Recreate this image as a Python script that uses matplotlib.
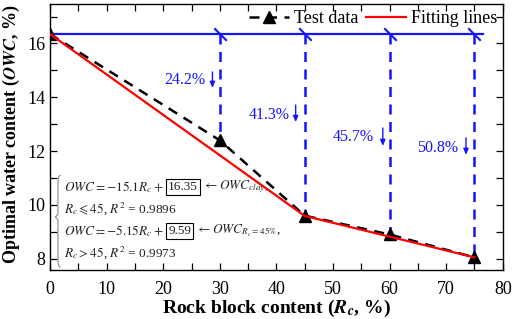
import numpy as np
import matplotlib
matplotlib.use("Agg")
from matplotlib import pyplot as plt
from matplotlib.offsetbox import TextArea, HPacker, VPacker, PaddedBox, AnnotationBbox
from matplotlib.path import Path
from matplotlib.patches import PathPatch

plt.rcParams['font.family'] = ['Liberation Serif', 'DejaVu Serif']
plt.rcParams['mathtext.fontset'] = 'stix'

# test data
rc_test  = [0, 30, 45, 60, 75]
owc_test = [16.35, 12.4, 9.6, 8.9, 8.05]

# fitting lines (two segments)
rc_fit  = [0, 45, 75]
owc_fit = [16.35, 9.59, 8.05]

# reference level (OWC of clay) and drop lines
ref_level = 16.35
ref_x     = [0, 76.5]
drop_x    = [30, 45, 60, 75]
drop_y    = [12.4, 9.6, 8.9, 8.05]

# reduction labels
pct_labels = ['24.2%', '41.3%', '45.7%', '50.8%']
pct_text_x = [27.4, 42.3, 57.3, 72.2]
pct_text_y = [14.64, 13.34, 12.52, 12.12]
arrow_x    = [28.7, 43.4, 58.8, 73.5]
arrow_top  = [14.94, 13.71, 12.86, 12.49]
arrow_bot  = [14.35, 13.08, 12.19, 11.86]

blue = '#1414ff'

fig = plt.figure(figsize=(5.12, 3.19), dpi=100)
ax = fig.add_axes([0.0977, 0.1536, 0.8843, 0.8324])

# reference line + drops
ax.plot(ref_x, [ref_level, ref_level], color=blue, lw=1.6, zorder=2)
for x, y in zip(drop_x, drop_y):
  ax.plot([x, x], [ref_level, y], color=blue, lw=1.8, dashes=(4, 3), zorder=2)
slash = [(-1, 1), (1, -1)]
ax.plot(drop_x, [ref_level]*len(drop_x), ls='none', marker=slash, ms=9,
        mec=blue, mew=1.5, zorder=3)

# fitting + test data
ax.plot(rc_fit, owc_fit, color='#ff0000', lw=1.6, zorder=4, label='Fitting lines')
ax.plot(rc_test, owc_test, color='black', lw=1.8, dashes=(4, 3), marker='^',
        ms=8, mfc='black', zorder=3, label='Test data')

for lab, tx, ty, axx, at, ab in zip(pct_labels, pct_text_x, pct_text_y,
                                   arrow_x, arrow_top, arrow_bot):
  ax.text(tx, ty, lab, color=blue, fontsize=11.5, ha='right', va='center')
  ax.annotate('', xy=(axx, ab), xytext=(axx, at),
              arrowprops=dict(arrowstyle='-|>,head_length=0.35,head_width=0.15',
                              color=blue, lw=1.0, shrinkA=0, shrinkB=0))

# axes styling
ax.set_xlim(0, 80)
ax.set_ylim(7.58, 17.45)
ax.set_xticks(np.arange(0, 81, 10))
ax.set_xticks(np.arange(0, 81, 5), minor=True)
ax.set_yticks([8, 10, 12, 14, 16])
ax.set_yticks(np.arange(8, 18, 1), minor=True)
ax.tick_params(which='both', direction='in', top=True, right=True,
               labelsize=13, width=0.9)
ax.tick_params(which='major', length=5)
ax.tick_params(which='minor', length=5)
ax.tick_params(axis='x', which='major', pad=8)
for s in ax.spines.values():
  s.set_linewidth(1.0)

ax.set_xlabel(r'Rock block content ($\mathbfit{R_c}$, %)', fontsize=14,
              fontweight='bold', labelpad=0)
ax.set_ylabel(r'Optimal water content ($\mathbfit{OWC}$, %)', fontsize=13,
              fontweight='bold')
ax.yaxis.set_label_coords(-0.062, 0.51)

h, l = ax.get_legend_handles_labels()
ax.legend([h[1], h[0]], [l[1], l[0]], loc='upper right', ncol=2, frameon=False,
          fontsize=13, handlelength=2.2, handletextpad=0.3, columnspacing=0.4,
          borderaxespad=0.1, borderpad=0.2)

# equation block
tp = dict(fontsize=9.5, color='#222222')
def box(s):
  return PaddedBox(TextArea(s, textprops=tp), pad=1.5, draw_frame=True,
                   patch_attrs=dict(boxstyle='square,pad=0', lw=0.8, ec='black', fc='none'))

row1 = HPacker(children=[TextArea(r'$OWC=-15.1R_c+$', textprops=tp), box('16.35'),
                         TextArea(r'$\leftarrow OWC_{clay}$,', textprops=tp)],
               sep=2, align='center')
row2 = TextArea(r'$R_c \leqslant 45$, $R^2$ = 0.9896', textprops=tp)
row3 = HPacker(children=[TextArea(r'$OWC=-5.15R_c+$', textprops=tp), box('9.59'),
                         TextArea(r'$\leftarrow OWC_{R_c=45\%}$,', textprops=tp)],
               sep=2, align='center')
row4 = TextArea(r'$R_c>45$, $R^2$ = 0.9973', textprops=tp)
eq = VPacker(children=[row1, row2, row3, row4], sep=4, align='left')
ab = AnnotationBbox(eq, (2.4, 7.9), box_alignment=(0, 0), frameon=False, pad=0)
ax.add_artist(ab)

# curly brace drawn as a path (data coords)
bx0, bx1 = 0.95, 1.85
bt, bm, bb = 11.1, 9.55, 7.68
verts = [(bx1, bt), (bx1 - 0.45, bt), (bx1 - 0.45, bt - 0.3),
         (bx1 - 0.45, bm + 0.1), (bx0, bm),
         (bx1 - 0.45, bm - 0.1), (bx1 - 0.45, bb + 0.3),
         (bx1 - 0.45, bb), (bx1, bb)]
codes = [Path.MOVETO, Path.CURVE3, Path.CURVE3, Path.LINETO, Path.LINETO,
         Path.LINETO, Path.LINETO, Path.CURVE3, Path.CURVE3]
ax.add_patch(PathPatch(Path(verts, codes), fc='none', ec='#888888', lw=0.8, zorder=5))

fig.savefig('out.png', dpi=100)
